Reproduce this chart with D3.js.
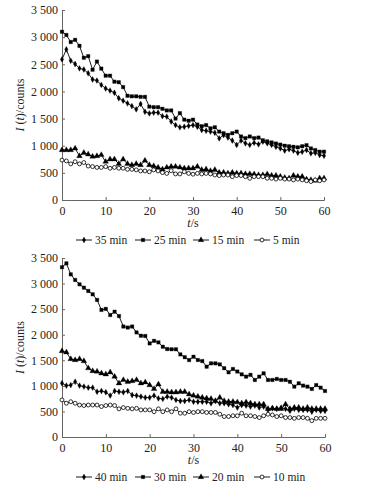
<!DOCTYPE html>
<html>
<head>
<meta charset="utf-8">
<script src="https://cdn.jsdelivr.net/npm/d3@7"></script>
<style>
  body { margin: 0; background: #fff; }
  text { font-family: "Liberation Serif", "Times New Roman", serif; fill: #222; }
</style>
</head>
<body>
<div id="chart"></div>
<script>
// time points (s)
const times = [0,1,2,3,4,5,6,7,8,9,10,11,12,13,14,15,16,17,18,19,20,21,22,23,24,25,26,27,28,29,30,
  31,32,33,34,35,36,37,38,39,40,41,42,43,44,45,46,47,48,49,50,51,52,53,54,55,56,57,58,59,60];
const xTicks = [0, 10, 20, 30, 40, 50, 60];
const yTicks = [0, 500, 1000, 1500, 2000, 2500, 3000, 3500];

// upper panel
const topNames = ["35 min", "25 min", "15 min", "5 min"];
const top35 = [2590,2775,2565,2505,2425,2405,2335,2220,2200,2120,2055,2015,1975,1875,1830,1780,1730,1670,1770,1625,
  1595,1610,1610,1545,1535,1445,1380,1340,1350,1365,1380,1350,1290,1275,1260,1240,1135,1195,1150,1095,
  1015,1095,1045,1015,1055,1025,1075,1045,1015,980,950,910,935,910,870,890,920,860,870,830,815];
const top25 = [3100,3040,2910,2950,2840,2620,2650,2400,2550,2420,2290,2290,2180,2170,2080,1920,1910,1910,1900,1900,
  1720,1710,1710,1680,1650,1650,1500,1600,1480,1460,1480,1390,1360,1380,1320,1340,1260,1230,1200,1230,
  1260,1170,1140,1170,1140,1150,1100,1080,1060,1040,1020,1000,990,980,970,990,1010,950,920,890,890];
const top15 = [920,920,920,950,810,870,840,800,810,830,705,750,750,665,750,665,645,665,645,725,
  645,625,600,565,600,615,615,600,585,585,585,615,555,565,535,555,505,505,490,505,
  490,490,480,480,475,460,460,475,450,450,430,410,400,450,430,430,380,370,355,400,400];
const top5 = [735,720,665,705,665,690,625,615,600,600,615,585,600,585,585,565,565,555,535,535,
  520,555,535,505,490,540,480,480,520,490,475,490,480,490,480,460,450,460,460,430,
  450,450,430,400,430,430,430,400,400,385,400,385,385,370,385,370,355,340,370,355,370];

// lower panel
const botNames = ["40 min", "30 min", "20 min", "10 min"];
const bot40 = [1050,1005,1015,1080,1005,985,965,965,885,900,875,810,900,885,875,900,820,810,790,770,
  770,810,755,745,790,770,725,705,705,725,690,690,690,690,660,705,660,660,640,625,
  575,625,615,595,615,575,595,530,560,550,575,550,510,550,530,530,530,495,530,510,510];
const bot30 = [3320,3395,3180,3070,2985,2920,2855,2790,2680,2485,2505,2385,2450,2365,2160,2140,2160,2045,1980,1975,
  1830,1880,1850,1765,1720,1715,1715,1615,1560,1505,1570,1505,1485,1375,1440,1440,1420,1345,1265,1330,
  1280,1225,1180,1215,1115,1180,1245,1115,1115,1135,1115,1115,1080,985,1050,1005,985,940,1015,965,900];
const bot20 = [1680,1655,1525,1505,1525,1485,1345,1290,1280,1245,1225,1265,1180,1050,1115,1080,1095,1115,1050,1070,
  1015,940,1030,885,885,875,875,885,885,835,810,790,770,755,745,705,770,705,690,690,
  680,660,680,660,640,640,640,550,560,550,550,640,550,575,575,550,575,550,550,550,550];
const bot10 = [725,660,690,660,625,615,625,625,625,595,615,625,615,550,575,560,550,560,530,530,
  530,495,550,495,530,495,550,465,465,495,480,495,495,480,480,480,445,400,400,415,
  415,465,415,415,400,380,415,445,430,400,415,380,380,365,380,380,365,320,365,365,365];

// marker per series position: diamond, square, triangle, open circle
const markers = [
  { type: d3.symbolDiamond, size: 10, fill: "#000" },
  { type: d3.symbolSquare, size: 12, fill: "#000" },
  { type: d3.symbolTriangle, size: 14, fill: "#000" },
  { type: d3.symbolCircle, size: 12, fill: "#fff" }
];

const W = 373, H = 491;
const svg = d3.select("#chart").append("svg")
  .attr("width", W).attr("height", H);

const fmt = d3.formatLocale({ decimal: ".", thousands: " ", grouping: [3], currency: ["", ""] }).format(",d");

function drawPanel(names, series, box) {
  const x = d3.scaleLinear().domain([0, 60]).range([box.left, box.right]);
  const y = d3.scaleLinear().domain([0, 3500]).range([box.bottom, box.top]);
  const g = svg.append("g");

  // axes
  const ax = g.append("g")
    .attr("transform", `translate(0,${box.bottom})`)
    .call(d3.axisBottom(x).tickValues(xTicks).tickSize(-3).tickPadding(6).tickFormat(d3.format("d")));
  const ay = g.append("g")
    .attr("transform", `translate(${box.left},0)`)
    .call(d3.axisLeft(y).tickValues(yTicks).tickSize(-3).tickPadding(4).tickFormat(fmt));
  [ax, ay].forEach(a => {
    a.select(".domain").attr("stroke", "#666");
    a.selectAll(".tick line").attr("stroke", "#666");
    a.selectAll("text").style("font-size", "12px").attr("fill", "#222");
  });

  // axis titles
  const xl = g.append("text")
    .attr("x", x(30)).attr("y", box.bottom + 27)
    .attr("text-anchor", "middle").style("font-size", "12px");
  xl.append("tspan").style("font-style", "italic").text("t");
  xl.append("tspan").text("/s");

  const yl = g.append("text")
    .attr("transform", `translate(24,${(box.top + box.bottom) / 2}) rotate(-90)`)
    .attr("text-anchor", "middle").style("font-size", "12px");
  yl.append("tspan").style("font-style", "italic").text("I");
  yl.append("tspan").text(" (");
  yl.append("tspan").style("font-style", "italic").text("t");
  yl.append("tspan").text(")/counts");

  const line = d3.line().x((d, i) => x(times[i])).y(d => y(d));

  series.forEach((vals, k) => {
    g.append("path")
      .attr("d", line(vals))
      .attr("fill", "none").attr("stroke", "#000").attr("stroke-width", 0.9);
    const m = markers[k];
    g.selectAll(null)
      .data(vals)
      .join("path")
      .attr("d", d3.symbol().type(m.type).size(m.size))
      .attr("transform", (d, i) => `translate(${x(times[i])},${y(d)})`)
      .attr("fill", m.fill).attr("stroke", "#000").attr("stroke-width", m.fill === "#fff" ? 0.8 : 0.3);
  });

  // legend
  const lx = [76, 135, 193, 254];
  names.forEach((n, k) => {
    const lg = g.append("g").attr("transform", `translate(${lx[k]},${box.legend})`);
    lg.append("line").attr("x1", 0).attr("x2", 16).attr("y1", 0).attr("y2", 0)
      .attr("stroke", "#000").attr("stroke-width", 0.9);
    const m = markers[k];
    lg.append("path").attr("d", d3.symbol().type(m.type).size(m.size))
      .attr("transform", "translate(8,0)")
      .attr("fill", m.fill).attr("stroke", "#000").attr("stroke-width", m.fill === "#fff" ? 0.8 : 0.3);
    lg.append("text").attr("x", 19).attr("y", 4).style("font-size", "11.5px").text(n);
  });
}

drawPanel(topNames, [top35, top25, top15, top5],
  { left: 62, right: 324, top: 10, bottom: 200, legend: 240 });
drawPanel(botNames, [bot40, bot30, bot20, bot10],
  { left: 62, right: 325, top: 258, bottom: 437, legend: 477 });
</script>
</body>
</html>
